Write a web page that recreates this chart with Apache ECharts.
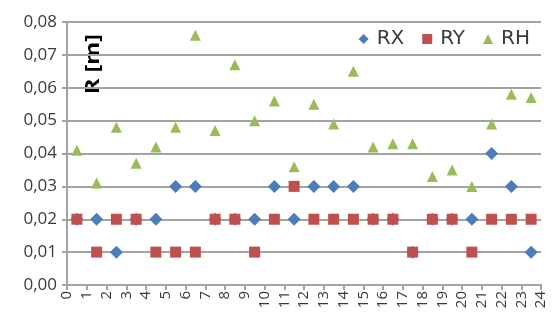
<!DOCTYPE html>
<html>
<head>
<meta charset="utf-8">
<script src="https://cdn.jsdelivr.net/npm/echarts@6/dist/echarts.min.js"></script>
<style>
  html, body { margin: 0; padding: 0; background: #fff; }
  #chart { width: 554px; height: 324px; }
</style>
</head>
<body>
<div id="chart"></div>
<script>
// Hour slots 0..23; each value sits in the middle of its slot
const hours = [0,1,2,3,4,5,6,7,8,9,10,11,12,13,14,15,16,17,18,19,20,21,22,23];
const xTickLabels = ['0','1','2','3','4','5','6','7','8','9','10','11','12','13','14','15','16','17','18','19','20','21','22','23','24'];
const yTickValues = [0, 0.01, 0.02, 0.03, 0.04, 0.05, 0.06, 0.07, 0.08];

const RX = [0.02,0.02,0.01,0.02,0.02,0.03,0.03,0.02,0.02,0.02,0.03,0.02,
            0.03,0.03,0.03,0.02,0.02,0.01,0.02,0.02,0.02,0.04,0.03,0.01];
const RY = [0.02,0.01,0.02,0.02,0.01,0.01,0.01,0.02,0.02,0.01,0.02,0.03,
            0.02,0.02,0.02,0.02,0.02,0.01,0.02,0.02,0.01,0.02,0.02,0.02];
const RH = [0.041,0.031,0.048,0.037,0.042,0.048,0.076,0.047,0.067,0.050,0.056,0.036,
            0.055,0.049,0.065,0.042,0.043,0.043,0.033,0.035,0.030,0.049,0.058,0.057];

const pairs = vals => hours.map((h, i) => [h + 0.5, vals[i]]);

const chart = echarts.init(document.getElementById('chart'));
const gridColor = '#a3a3a3';
const textColor = '#3a3a3a';
const font = '"Open Sans", "Liberation Sans", sans-serif';

chart.setOption({
  animation: false,
  backgroundColor: '#ffffff',
  grid: { left: 67, right: 13, top: 22, bottom: 39 },
  legend: {
    right: 19, top: 24,
    itemWidth: 10, itemHeight: 10, itemGap: 18,
    textStyle: { fontSize: 20, color: textColor, fontFamily: '"DejaVu Sans", sans-serif', padding: [0, 0, 0, 3] },
    data: [
      { name: 'RX', icon: 'diamond' },
      { name: 'RY', icon: 'rect' },
      { name: 'RH', icon: 'triangle' }
    ]
  },
  xAxis: {
    type: 'value', min: 0, max: 24, interval: 1,
    axisLine: { show: true, lineStyle: { color: gridColor, width: 2 } },
    axisTick: { show: true, length: 5, lineStyle: { color: gridColor, width: 2 } },
    splitLine: { show: false },
    axisLabel: {
      rotate: 90, fontSize: 15, color: textColor, fontFamily: font, margin: 6,
      formatter: v => xTickLabels[Math.round(v)]
    }
  },
  yAxis: {
    type: 'value', min: yTickValues[0], max: yTickValues[yTickValues.length - 1], interval: 0.01,
    axisLine: { show: true, lineStyle: { color: gridColor, width: 2 } },
    axisTick: { show: true, length: 5, lineStyle: { color: gridColor, width: 2 } },
    splitLine: { show: true, lineStyle: { color: gridColor, width: 2 } },
    axisLabel: {
      fontSize: 17, color: textColor, fontFamily: font, margin: 10,
      formatter: v => v.toFixed(2).replace('.', ',')
    }
  },
  graphic: [{
    type: 'text', left: 83, top: 34, rotation: Math.PI / 2, scaleX: 1.17,
    style: { text: 'R [m]', font: 'bold 20px ' + font, fill: '#000' }
  }],
  series: [
    { name: 'RX', type: 'scatter', symbol: 'diamond', symbolSize: 13,
      itemStyle: { color: '#4A7EBB', opacity: 1 }, data: pairs(RX) },
    { name: 'RY', type: 'scatter', symbol: 'rect', symbolSize: 11,
      itemStyle: { color: '#C0504D', opacity: 1 }, data: pairs(RY) },
    { name: 'RH', type: 'scatter', symbol: 'triangle', symbolSize: 11,
      itemStyle: { color: '#9BBB59', opacity: 1 }, data: pairs(RH) }
  ]
});
</script>
</body>
</html>
